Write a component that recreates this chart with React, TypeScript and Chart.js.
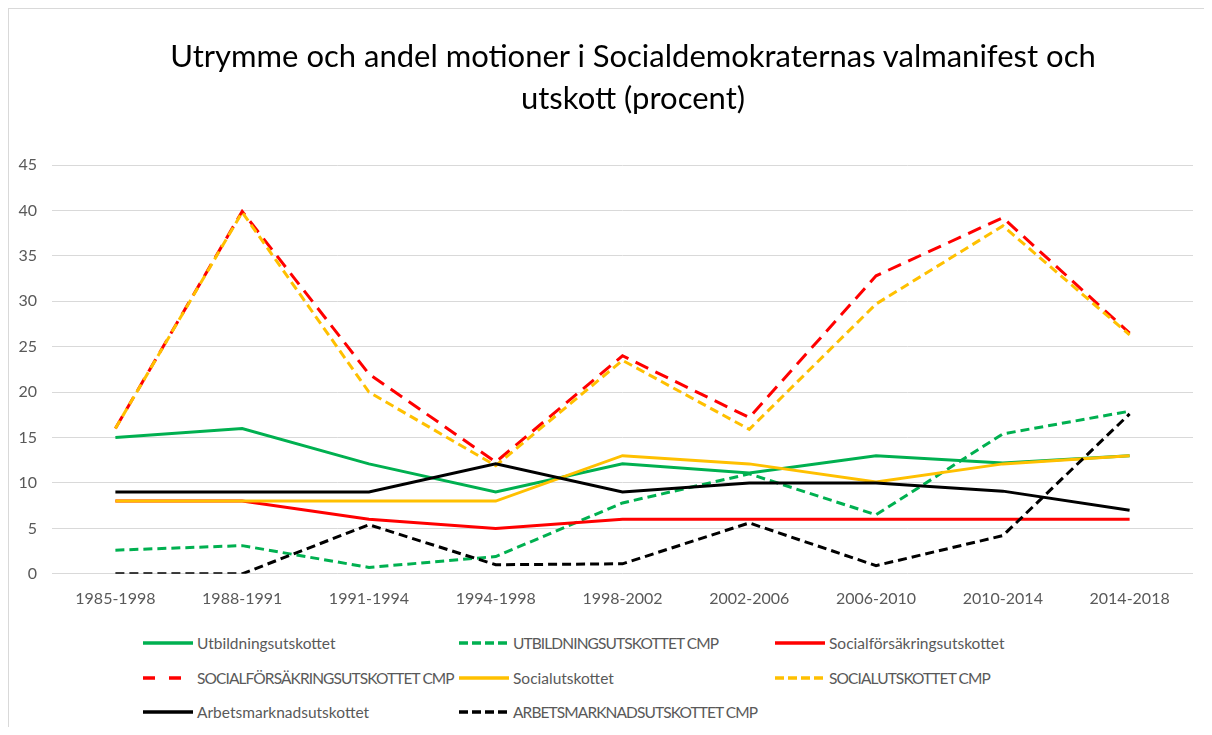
import React, { useEffect, useRef } from "react";
import { Chart, registerables } from "chart.js";

Chart.register(...registerables);

const titleLines = [
  "Utrymme och andel motioner i Socialdemokraternas valmanifest och",
  "utskott (procent)",
];

const categories = [
  "1985-1998",
  "1988-1991",
  "1991-1994",
  "1994-1998",
  "1998-2002",
  "2002-2006",
  "2006-2010",
  "2010-2014",
  "2014-2018",
];

const utbildning = [15, 16, 12.1, 9, 12.1, 11.1, 13, 12.2, 13];
const utbildningCmp = [2.6, 3.1, 0.7, 1.9, 7.8, 11, 6.5, 15.4, 17.9];
const socialforsakring = [8, 8, 6, 5, 6, 6, 6, 6, 6];
const socialforsakringCmp = [16, 39.9, 22, 12.3, 24, 17.2, 32.8, 39.2, 26.5];
const social = [8, 8, 8, 8, 13, 12.1, 10.1, 12.1, 13];
const socialCmp = [16, 39.8, 20, 11.9, 23.5, 15.9, 29.7, 38.3, 26.3];
const arbetsmarknad = [9, 9, 9, 12.1, 9, 10, 10, 9.1, 7];
const arbetsmarknadCmp = [0, 0, 5.4, 1, 1.1, 5.6, 0.9, 4.2, 17.6];

const yTicks = [0, 5, 10, 15, 20, 25, 30, 35, 40, 45];

const GREEN = "#00B050";
const RED = "#FF0000";
const YELLOW = "#FFC000";
const BLACK = "#000000";

type Series = {
  label: string;
  data: number[];
  color: string;
  dash: number[];
  legendDash: string;
};

const series: Series[] = [
  { label: "Utbildningsutskottet", data: utbildning, color: GREEN, dash: [], legendDash: "" },
  { label: "UTBILDNINGSUTSKOTTET CMP", data: utbildningCmp, color: GREEN, dash: [9, 5], legendDash: "9 4" },
  { label: "Socialförsäkringsutskottet", data: socialforsakring, color: RED, dash: [], legendDash: "" },
  { label: "SOCIALFÖRSÄKRINGSUTSKOTTET CMP", data: socialforsakringCmp, color: RED, dash: [14, 8], legendDash: "12 14" },
  { label: "Socialutskottet", data: social, color: YELLOW, dash: [], legendDash: "" },
  { label: "SOCIALUTSKOTTET CMP", data: socialCmp, color: YELLOW, dash: [9, 5], legendDash: "9 4" },
  { label: "Arbetsmarknadsutskottet", data: arbetsmarknad, color: BLACK, dash: [], legendDash: "" },
  { label: "ARBETSMARKNADSUTSKOTTET CMP", data: arbetsmarknadCmp, color: BLACK, dash: [9, 5], legendDash: "9 4" },
];

const FONT = "Lato, 'Liberation Sans', sans-serif";

export default function App() {
  const canvasRef = useRef<HTMLCanvasElement | null>(null);

  useEffect(() => {
    if (!canvasRef.current) return;
    const chart = new Chart(canvasRef.current, {
      type: "line",
      data: {
        labels: categories,
        datasets: series.map((s, i) => ({
          label: s.label,
          data: s.data,
          borderColor: s.color,
          backgroundColor: s.color,
          borderWidth: 3,
          borderDash: s.dash,
          borderCapStyle: "butt",
          pointRadius: 0,
          pointHoverRadius: 0,
          tension: 0,
          fill: false,
          order: series.length - i,
        })),
      },
      options: {
        animation: false,
        responsive: false,
        maintainAspectRatio: false,
        layout: { padding: { left: 0, right: 10, top: 156, bottom: 0 } },
        plugins: {
          legend: { display: false },
          tooltip: { enabled: false },
          title: { display: false },
        },
        scales: {
          x: {
            type: "category",
            offset: true,
            grid: { display: false, drawTicks: false },
            border: { display: false },
            afterFit: (axis: any) => {
              axis.paddingLeft = 0;
              axis.paddingRight = 0;
            },
            ticks: {
              color: "#595959",
              font: { family: FONT, size: 16 },
              padding: 15,
              maxRotation: 0,
              autoSkip: false,
            },
          },
          y: {
            min: 0,
            max: 45,
            afterBuildTicks: (axis: any) => {
              axis.ticks = yTicks.map((v) => ({ value: v }));
            },
            afterFit: (axis: any) => {
              axis.width = 43;
            },
            grid: { color: "#d9d9d9", lineWidth: 1, drawTicks: false },
            border: { display: false },
            ticks: {
              color: "#595959",
              font: { family: FONT, size: 16 },
              padding: 15,
            },
          },
        },
      },
    });
    return () => chart.destroy();
  }, []);

  const rows: Series[][] = [];
  for (let i = 0; i < series.length; i += 3) rows.push(series.slice(i, i + 3));

  return (
    <div
      style={{
        position: "relative",
        width: 1196,
        height: 719,
        boxSizing: "border-box",
        borderLeft: "1px solid #d9d9d9",
        borderTop: "1px solid #d9d9d9",
        background: "#ffffff",
        overflow: "hidden",
      }}
    >
      <canvas ref={canvasRef} width={1194} height={614} style={{ display: "block" }} />
      <div
        style={{
          position: "absolute",
          left: 24,
          top: 25,
          width: 1200,
          textAlign: "center",
          fontFamily: FONT,
          fontSize: 31,
          lineHeight: "42px",
          color: "#000000",
          whiteSpace: "nowrap",
        }}
      >
        {titleLines.map((t) => (
          <div key={t}>{t}</div>
        ))}
      </div>
      <div style={{ position: "absolute", left: 134, top: 617, width: 960 }}>
        {rows.map((row, ri) => (
          <div key={ri} style={{ display: "flex", height: 34.5, alignItems: "center" }}>
            {row.map((s) => {
              const upper = s.label === s.label.toUpperCase();
              return (
                <div key={s.label} style={{ width: 316, display: "flex", alignItems: "center" }}>
                  <svg width={50} height={6} style={{ display: "block", flex: "none" }}>
                    <line
                      x1={0}
                      y1={3}
                      x2={50}
                      y2={3}
                      stroke={s.color}
                      strokeWidth={3.5}
                      strokeDasharray={s.legendDash || undefined}
                    />
                  </svg>
                  <span
                    style={{
                      marginLeft: 4,
                      fontFamily: FONT,
                      fontSize: 15.5,
                      letterSpacing: upper ? "-0.9px" : "0px",
                      color: "#595959",
                      whiteSpace: "nowrap",
                    }}
                  >
                    {s.label}
                  </span>
                </div>
              );
            })}
          </div>
        ))}
      </div>
    </div>
  );
}
